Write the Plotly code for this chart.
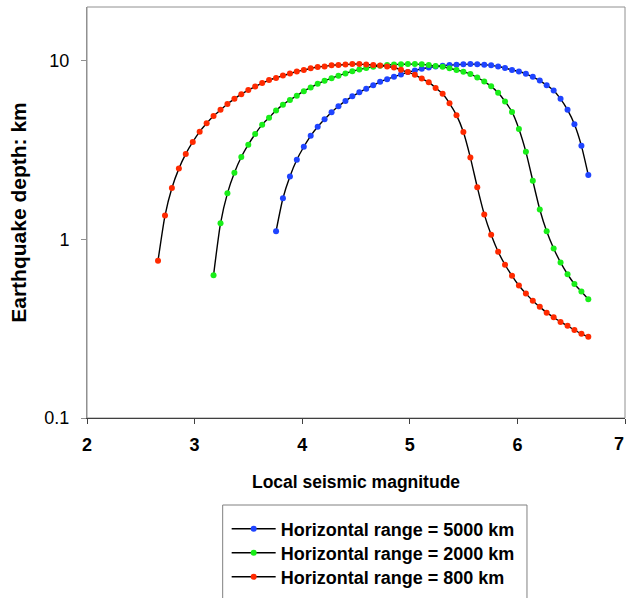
import plotly.graph_objects as go

# Shared magnitude grid
magnitude = [2.660, 2.725, 2.789, 2.854, 2.918, 2.983, 3.047, 3.112, 3.176, 3.241,
             3.305, 3.370, 3.434, 3.499, 3.563, 3.628, 3.692, 3.757, 3.821, 3.886,
             3.950, 4.015, 4.079, 4.144, 4.208, 4.273, 4.337, 4.402, 4.466, 4.531,
             4.595, 4.660, 4.724, 4.789, 4.853, 4.918, 4.982, 5.047, 5.111, 5.176,
             5.240, 5.305, 5.369, 5.434, 5.498, 5.563, 5.627, 5.692, 5.756, 5.821,
             5.885, 5.950, 6.014, 6.079, 6.143, 6.208, 6.272, 6.337, 6.401, 6.466,
             6.530, 6.595, 6.659]

depth_800 = [0.76, 1.36, 1.94, 2.49, 3.01, 3.51, 4.01, 4.47, 4.91, 5.31,
             5.73, 6.12, 6.50, 6.85, 7.17, 7.50, 7.80, 8.02, 8.26, 8.48,
             8.71, 8.87, 9.07, 9.23, 9.30, 9.44, 9.47, 9.53, 9.58, 9.58,
             9.53, 9.46, 9.41, 9.29, 9.17, 8.90, 8.64, 8.34, 7.95, 7.59,
             7.05, 6.53, 5.78, 4.96, 3.99, 2.87, 1.96, 1.38, 1.06, 0.853,
             0.721, 0.625, 0.552, 0.497, 0.454, 0.419, 0.389, 0.366, 0.345, 0.328,
             0.311, 0.296, 0.285]

depth_2000 = [0.63, 1.23, 1.81, 2.36, 2.89, 3.39, 3.89, 4.39, 4.80, 5.26,
              5.68, 6.04, 6.38, 6.76, 7.08, 7.43, 7.72, 7.98, 8.25, 8.49,
              8.75, 8.93, 9.10, 9.25, 9.37, 9.46, 9.53, 9.55, 9.58, 9.58,
              9.55, 9.46, 9.35, 9.25, 9.08, 8.88, 8.69, 8.42, 8.06, 7.65,
              7.19, 6.62, 5.92, 5.17, 4.15, 3.09, 2.13, 1.47, 1.11, 0.890,
              0.743, 0.638, 0.563, 0.511, 0.462]

depth_5000 = [1.11, 1.70, 2.25, 2.79, 3.30, 3.80, 4.27, 4.70, 5.15, 5.56,
              5.96, 6.32, 6.66, 6.98, 7.30, 7.62, 7.89, 8.13, 8.37, 8.64,
              8.82, 9.02, 9.17, 9.29, 9.37, 9.46, 9.50, 9.55, 9.58, 9.56,
              9.50, 9.43, 9.29, 9.10, 8.89, 8.71, 8.45, 8.13, 7.75, 7.30,
              6.81, 6.12, 5.31, 4.41, 3.34, 2.29]

series_names = ["Horizontal range = 5000 km",
                "Horizontal range = 2000 km",
                "Horizontal range = 800 km"]
series_x = [magnitude[17:], magnitude[8:], magnitude]
series_y = [depth_5000, depth_2000, depth_800]
series_colors = ["#1f44ff", "#18ee18", "#ff2a00"]

x_ticks = [2, 3, 4, 5, 6, 7]
y_ticks = [0.1, 1, 10]
y_tick_labels = ["0.1", "1", "10"]

legend_ids = ["legend", "legend2", "legend3"]
legend_rows_y = [-0.2701, -0.3285, -0.3869]

fig = go.Figure()
for name, xs, ys, col, lid in zip(series_names, series_x, series_y, series_colors, legend_ids):
    fig.add_trace(go.Scatter(
        x=xs, y=ys, name=name, mode="lines+markers", legend=lid,
        line=dict(color="black", width=1.4, shape="spline", smoothing=0.6),
        marker=dict(color=col, size=6, symbol="circle"),
    ))

font_main = "Liberation Sans, Arial, sans-serif"
xtick_font = dict(family=font_main, size=18, color="black", weight="bold")

legend_common = dict(
    xanchor="left", yanchor="middle", x=0.2596,
    borderwidth=0, bgcolor="rgba(0,0,0,0)",
    font=dict(family=font_main, size=18, color="black", weight="bold"),
    itemwidth=44,
)

fig.update_layout(
    width=626, height=598,
    margin=dict(l=87, r=1, t=7, b=180, autoexpand=False),
    paper_bgcolor="white", plot_bgcolor="white",
    showlegend=True,
    legend=dict(y=legend_rows_y[0], **legend_common),
    legend2=dict(y=legend_rows_y[1], **legend_common),
    legend3=dict(y=legend_rows_y[2], **legend_common),
    xaxis=dict(
        range=[2, 7], tickvals=x_ticks, ticktext=[str(v) for v in x_ticks],
        showgrid=False, zeroline=False, automargin=False,
        showline=True, linecolor="#404040", linewidth=1,
        ticks="outside", ticklen=5, tickcolor="#404040",
        ticklabelstandoff=5,
        tickfont=xtick_font,
        title=dict(text="Local seismic magnitude", standoff=22,
                   font=dict(family=font_main, size=17.5, color="black", weight="bold")),
    ),
    yaxis=dict(
        type="log", range=[-1, 1.30103],
        tickvals=y_ticks, ticktext=y_tick_labels,
        showgrid=False, zeroline=False, automargin=False,
        showline=True, linecolor="#909090", linewidth=1,
        ticks="outside", ticklen=5, tickcolor="#909090",
        ticklabelstandoff=8,
        tickfont=dict(family=font_main, size=18, color="black"),
        title=dict(text="Earthquake depth: km", standoff=12,
                   font=dict(family=font_main, size=21, color="black", weight="bold")),
    ),
    shapes=[
        dict(type="rect", xref="paper", yref="paper", x0=0, y0=0, x1=1, y1=1,
             line=dict(color="#909090", width=1), layer="below"),
        dict(type="rect", xref="paper", yref="paper", x0=0.2522, y0=-0.2117,
             x1=0.8178, y1=-0.47, line=dict(color="#808080", width=1),
             fillcolor="rgba(0,0,0,0)", layer="above"),
    ],
    annotations=[
        # last tick label, kept just inside the right edge
        dict(text=str(x_ticks[-1]), xref="x", x=x_ticks[-1], yref="paper", y=-0.0633,
             xanchor="right", yanchor="middle", xshift=1, showarrow=False, font=xtick_font),
    ],
)

fig.write_html(
    "out.html",
    config={"displayModeBar": False},
    post_script="document.body.style.margin='0';document.body.style.overflow='hidden';",
)
